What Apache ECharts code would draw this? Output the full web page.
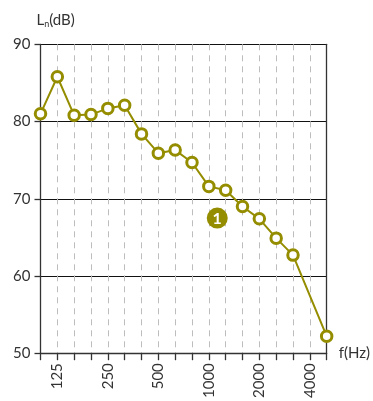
<!DOCTYPE html>
<html>
<head>
<meta charset="utf-8">
<script src="https://cdn.jsdelivr.net/npm/echarts@6/dist/echarts.min.js"></script>
<style>
  html, body { margin: 0; padding: 0; background: #fff; }
  #chart { width: 373px; height: 401px; }
</style>
</head>
<body>
<div id="chart"></div>
<script>
// One-third octave band centre frequencies (Hz)
const bands = ['100', '125', '160', '200', '250', '315', '400', '500', '630',
               '800', '1000', '1250', '1600', '2000', '2500', '3150', '4000', '5000'];
// Normalised impact sound level Ln per band (dB); the 4000 Hz band has no marker
const levels = [81.0, 85.8, 80.8, 80.9, 81.7, 82.1, 78.4, 75.9, 76.3,
                74.7, 71.6, 71.1, 69.0, 67.4, 64.9, 62.7, null, 52.2];
// Bands that carry a frequency label
const labelledBands = ['125', '250', '500', '1000', '2000', '4000'];
// Level axis ticks
const levelTicks = [50, 60, 70, 80, 90];
// Numbered callout placed beside the curve (between the 1000 and 1250 Hz bands)
const callout = { text: '1', band: 10.5, level: 67.5 };

const olive = '#958d00';
const ink = '#333333';
const font = 'Lato, "Open Sans", sans-serif';

const chart = echarts.init(document.getElementById('chart'));
chart.setOption({
  animation: false,
  grid: { left: 40.5, right: 42.5, top: 44.3, bottom: 47, containLabel: false },
  xAxis: {
    type: 'category',
    data: bands,
    boundaryGap: false,
    name: 'f(Hz)',
    nameLocation: 'end',
    nameGap: 12,
    nameTextStyle: { color: ink, fontSize: 15, fontFamily: font, verticalAlign: 'middle' },
    axisLine: { show: true, lineStyle: { color: ink, width: 1.3 } },
    axisTick: { show: true, interval: 0, length: 7, lineStyle: { color: ink, width: 1.3 } },
    axisLabel: {
      interval: 0,
      rotate: 90,
      margin: 10,
      color: ink,
      fontSize: 15,
      fontFamily: font,
      formatter: v => (labelledBands.includes(v) ? v : '')
    },
    splitLine: { show: true, interval: 0, lineStyle: { color: '#bdbdbd', type: [6, 5], width: 1 } }
  },
  yAxis: [
    {
      type: 'value',
      min: levelTicks[0],
      max: levelTicks[levelTicks.length - 1],
      interval: 10,
      name: '{a|L}{b|n}{a|(dB)}',
      nameLocation: 'end',
      nameGap: 16,
      nameTextStyle: {
        align: 'left',
        padding: [0, 0, 0, -4],
        rich: {
          a: { color: ink, fontSize: 15, fontFamily: font },
          b: { color: ink, fontSize: 9, fontFamily: font, padding: [8, 0, 0, 0] }
        }
      },
      axisLine: { show: true, lineStyle: { color: ink, width: 1.3 } },
      axisTick: { show: true, length: 6, lineStyle: { color: ink, width: 1.3 } },
      axisLabel: { color: ink, fontSize: 15, fontFamily: font, margin: 10 },
      splitLine: { show: true, lineStyle: { color: '#111', width: 1.2 } }
    },
    {
      type: 'value',
      position: 'right',
      min: levelTicks[0],
      max: levelTicks[levelTicks.length - 1],
      interval: 10,
      axisLine: { show: true, lineStyle: { color: ink, width: 1.3 } },
      axisTick: { show: false },
      axisLabel: { show: false },
      splitLine: { show: false }
    }
  ],
  series: [{
    type: 'line',
    data: levels,
    connectNulls: true,
    symbol: 'circle',
    symbolSize: 10.5,
    showAllSymbol: true,
    lineStyle: { color: olive, width: 2 },
    itemStyle: { color: '#fff', borderColor: olive, borderWidth: 3 },
    z: 5
  }]
});

// Place the numbered callout halfway between two band positions
const left = chart.convertToPixel({ xAxisIndex: 0, yAxisIndex: 0 }, [Math.floor(callout.band), callout.level]);
const right = chart.convertToPixel({ xAxisIndex: 0, yAxisIndex: 0 }, [Math.ceil(callout.band), callout.level]);
const frac = callout.band - Math.floor(callout.band);
const cx = left[0] + (right[0] - left[0]) * frac;
const cy = left[1];
chart.setOption({
  graphic: [
    { type: 'circle', shape: { cx: cx, cy: cy, r: 10.5 }, style: { fill: olive }, z: 10 },
    {
      type: 'text', x: cx, y: cy + 0.5, z: 11,
      style: { text: callout.text, fill: '#fff', font: 'bold 16px ' + font, align: 'center', verticalAlign: 'middle' }
    }
  ]
});
</script>
</body>
</html>
